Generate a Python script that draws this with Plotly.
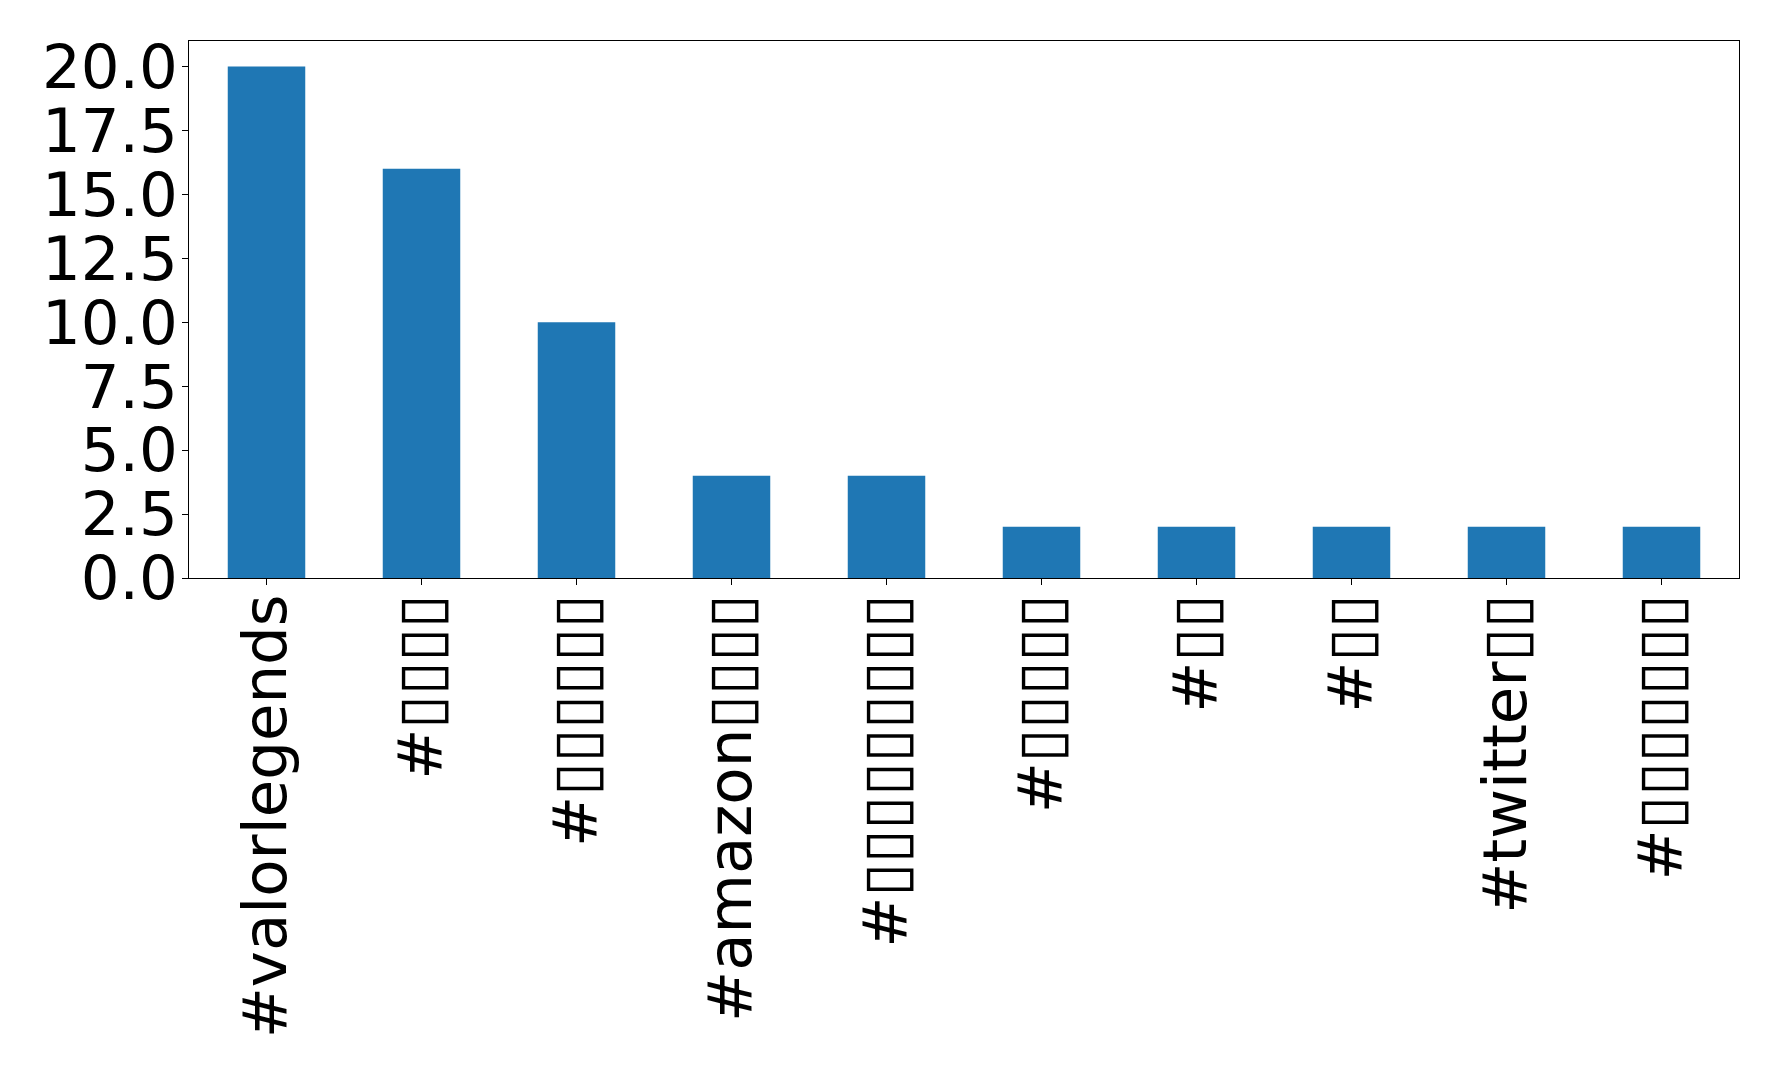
import plotly.graph_objects as go

B = "\u25AF"
hashtags = [
    "#valorlegends",
    "#" + B * 4,
    "#" + B * 6,
    "#amazon" + B * 4,
    "#" + B * 9,
    "#" + B * 5,
    "#" + B * 2,
    "#" + B * 2 + "\u200b",
    "#twitter" + B * 2,
    "#" + B * 7,
]
counts = [20, 16, 10, 4, 4, 2, 2, 2, 2, 2]
y_ticks = [0, 2.5, 5, 7.5, 10, 12.5, 15, 17.5, 20]

fig = go.Figure(
    go.Bar(
        x=list(range(len(hashtags))),
        y=counts,
        width=0.5,
        marker=dict(color="#1f77b4", line=dict(width=0)),
    )
)

fig.update_layout(
    width=1778,
    height=1083,
    margin=dict(l=181, r=47, t=33, b=513),
    plot_bgcolor="white",
    paper_bgcolor="white",
    font=dict(family="DejaVu Sans", size=61, color="black"),
    showlegend=False,
)
fig.update_xaxes(
    range=[-0.5, 9.5],
    tickmode="array",
    tickvals=list(range(len(hashtags))),
    ticktext=hashtags,
    tickangle=-90,
    ticks="outside",
    ticklen=6,
    tickwidth=1,
    tickcolor="black",
    ticklabelstandoff=-15,
    showline=True,
    linecolor="black",
    linewidth=1,
    mirror=True,
    showgrid=False,
    zeroline=False,
)
fig.update_yaxes(
    range=[0, 21],
    tickmode="array",
    tickvals=y_ticks,
    tickformat=".1f",
    ticks="outside",
    ticklen=6,
    tickwidth=1,
    tickcolor="black",
    ticklabelstandoff=-8,
    showline=True,
    linecolor="black",
    linewidth=1,
    mirror=True,
    showgrid=False,
    zeroline=False,
)

fig.write_html("out.html")
